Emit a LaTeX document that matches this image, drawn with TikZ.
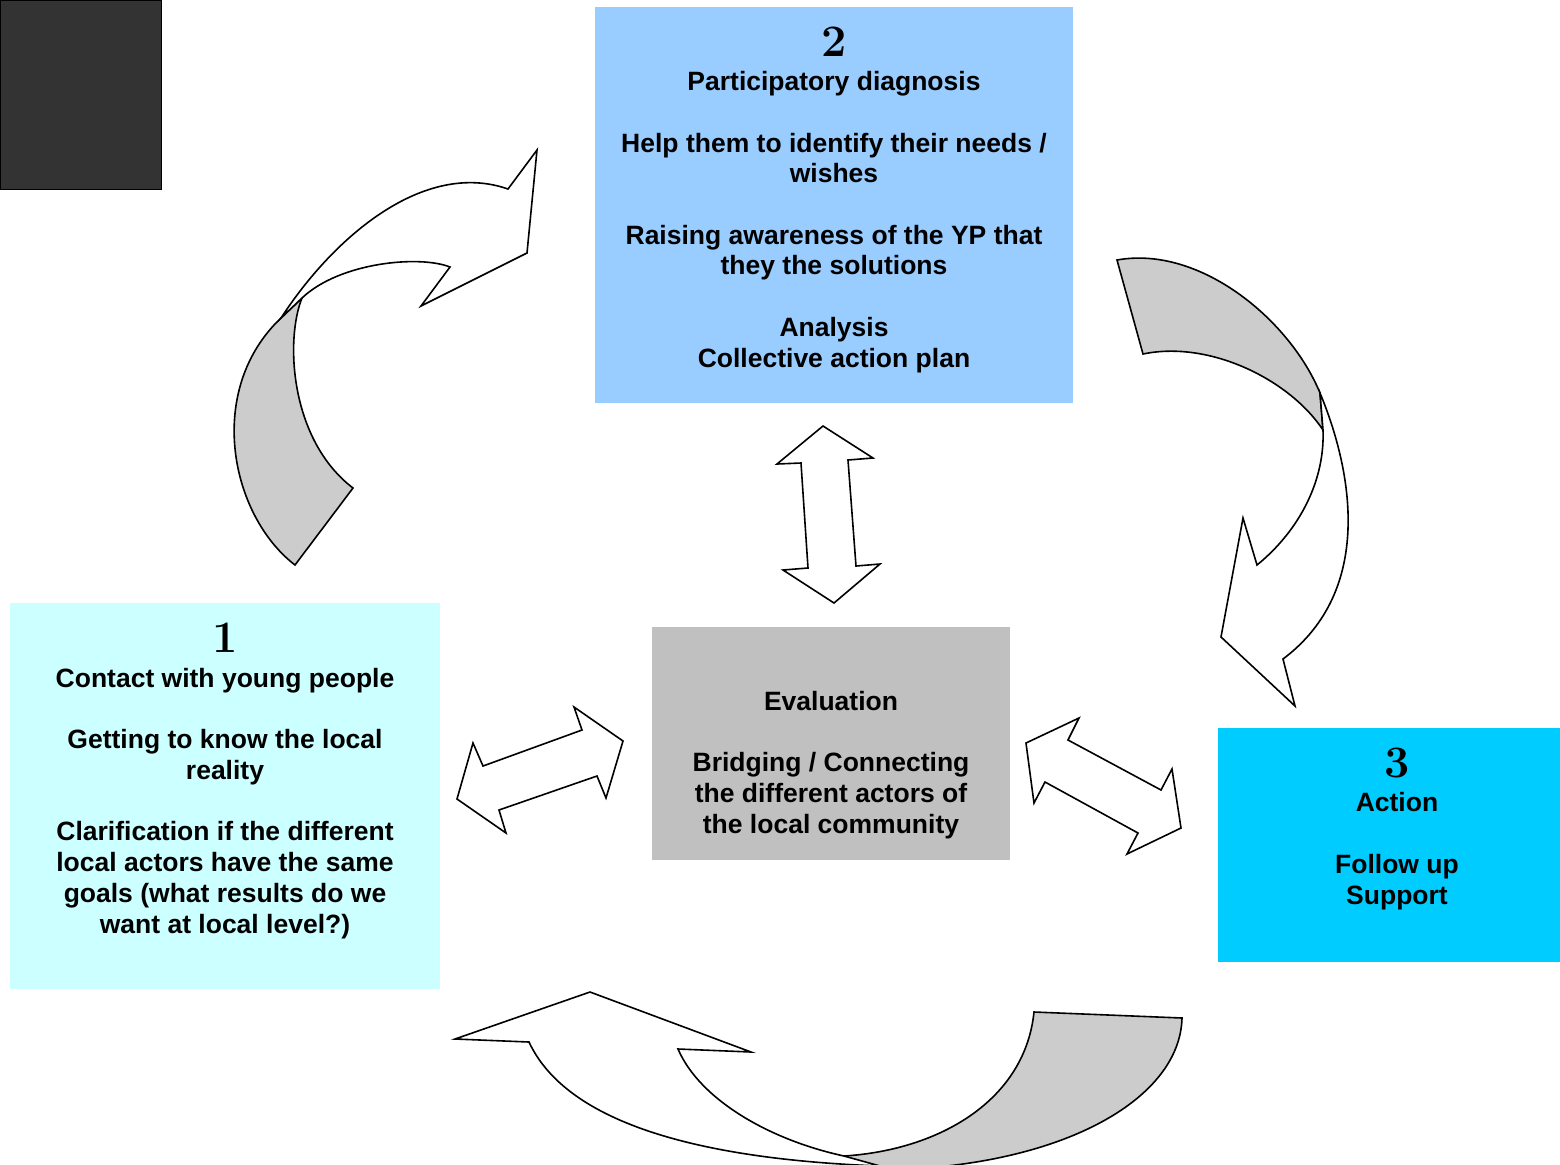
\documentclass[tikz,border=0pt]{standalone}
\usepackage{fontspec}
\setsansfont{Liberation Sans}
\definecolor{darkbox}{HTML}{333333}
\definecolor{boxtwo}{HTML}{99CCFF}
\definecolor{boxone}{HTML}{CCFFFF}
\definecolor{boxthree}{HTML}{00CCFF}
\definecolor{boxeval}{HTML}{C0C0C0}
\definecolor{arrowgray}{HTML}{CCCCCC}
\begin{document}
\begin{tikzpicture}[x=0.5pt,y=-0.5pt,
  box/.style={inner sep=0pt, outer sep=0pt, anchor=north west},
  txt/.style={font=\sffamily\bfseries\fontsize{13.25}{15.35}\selectfont, align=center, inner sep=0pt, anchor=base},
  num/.style={font=\rmfamily\bfseries\fontsize{22.5}{22.5}\selectfont, inner sep=0pt, anchor=base},
  blockarrow/.style={draw=black, line width=0.8pt, fill=white, line join=miter},
  shade/.style={draw=black, line width=0.8pt, fill=arrowgray, line join=miter}]
\clip (0,0) rectangle (1560,1164);
\fill[white] (0,0) rectangle (1560,1164);
% boxes
\node[box, fill=darkbox, draw=black, line width=0.5pt, minimum width=80.5pt, minimum height=94.5pt] (dark) at (0,0) {};
\node[box, fill=boxtwo, minimum width=239pt, minimum height=198pt] (b2) at (595,7) {};
\node[box, fill=boxone, minimum width=215pt, minimum height=193pt] (b1) at (10,603) {};
\node[box, fill=boxthree, minimum width=171pt, minimum height=117pt] (b3) at (1218,728) {};
\node[box, fill=boxeval, minimum width=179pt, minimum height=116.5pt] (be) at (652,627) {};
% texts (base anchor = baseline of the last line)
\node[num] (n2) at (834,56) {2};
\node[txt] (t2) at (834,367) {Participatory diagnosis\\[15.35pt]Help them to identify their needs /\\wishes\\[15.35pt]Raising awareness of the YP that\\they the solutions\\[15.35pt]Analysis\\Collective action plan};
\node[num] (n1) at (225,652) {1};
\node[txt] (t1) at (225,933) {Contact with young people\\[15.35pt]Getting to know the local\\reality\\[15.35pt]Clarification if the different\\local actors have the same\\goals (what results do we\\want at local level?)};
\node[num] (n3) at (1397,777) {3};
\node[txt] (t3) at (1397,904) {Action\\[15.35pt]Follow up\\Support};
\node[txt] (te) at (831,833) {Evaluation\\[15.35pt]Bridging / Connecting\\the different actors of\\the local community};
% curved arrow top-left
\draw[shade] (281,318) .. controls (205,390) and (230,515) .. (295,565) -- (353,488) .. controls (290,440) and (285,340) .. (302,298) -- cycle;
\draw[blockarrow] (281,318) .. controls (335,235) and (425,160) .. (508,189) -- (537,150) -- (527,253) -- (421,306) -- (450,267) .. controls (420,255) and (340,262) .. (302,298) -- cycle;
% curved arrow right
\draw[shade] (1117,260) .. controls (1200,245) and (1290,320) .. (1320,393) -- (1323,430) .. controls (1290,380) and (1210,340) .. (1143,354) -- cycle;
\draw[blockarrow] (1320,393) .. controls (1352,470) and (1375,590) .. (1283,659) -- (1295,706) -- (1221,637) -- (1243,518) -- (1257,565) .. controls (1300,530) and (1325,480) .. (1323,430) -- cycle;
% curved arrow bottom
\draw[shade] (844,1156) .. controls (940,1150) and (1025,1100) .. (1034,1012) -- (1182,1018) .. controls (1180,1100) and (1060,1168) .. (880,1170) -- cycle;
\draw[blockarrow] (529,1042) .. controls (570,1130) and (720,1160) .. (880,1166) -- (844,1156) .. controls (770,1140) and (700,1100) .. (678,1049) -- (751,1052) -- (590,992) -- (455,1039) -- cycle;
% double arrows
\draw[blockarrow] (823,426) -- (873,458) -- (848,460) -- (856,566) -- (880,564) -- (834,603) -- (783,570) -- (808,568) -- (801,463) -- (777,464) -- cycle;
\draw[blockarrow] (457,799) -- (473,743) -- (483,766) -- (582,730) -- (574,707) -- (623,741) -- (606,798) -- (597,776) -- (499,810) -- (506,833) -- cycle;
\draw[blockarrow] (1026,743) -- (1079,718) -- (1068,740) -- (1161,790) -- (1172,769) -- (1181,828) -- (1127,854) -- (1138,833) -- (1045,782) -- (1034,803) -- cycle;
\end{tikzpicture}
\end{document}
